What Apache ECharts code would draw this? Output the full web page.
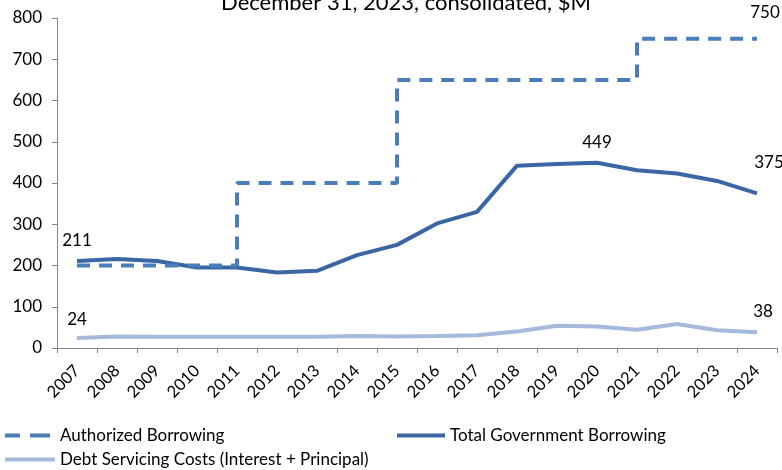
<!DOCTYPE html>
<html>
<head>
<meta charset="utf-8">
<script src="https://cdn.jsdelivr.net/npm/echarts@6/dist/echarts.min.js"></script>
<style>
  html, body { margin: 0; padding: 0; background: #fff; }
  #chart { width: 782px; height: 470px; }
</style>
</head>
<body>
<div id="chart"></div>
<script>
const years = ["2007", "2008", "2009", "2010", "2011", "2012", "2013", "2014", "2015",
  "2016", "2017", "2018", "2019", "2020", "2021", "2022", "2023", "2024"];
const authorized = [200, 200, 200, 200, 200, 400, 400, 400, 400,
  650, 650, 650, 650, 650, 650, 750, 750, 750];
const totalBorrowing = [211, 216, 211, 195, 195, 183, 187, 225, 250,
  302, 330, 442, 446, 449, 431, 423, 405, 375];
const debtServicing = [24, 28, 27, 27, 27, 27, 27, 29, 28,
  29, 31, 40, 54, 52, 44, 58, 43, 38];
// which points carry a value label
const totalLabelIdx = [0, 13, 17];
const debtLabelIdx = [0, 17];
const authLabelIdx = [17];

const fontFamily = "Lato, 'Open Sans', sans-serif";
const chart = echarts.init(document.getElementById("chart"));

const withLabels = (values, idx, lastOffset, distance) =>
  values.map((v, i) => idx.includes(i)
    ? {
        value: v,
        label: {
          show: true,
          position: "top",
          distance: distance,
          offset: i === values.length - 1 ? lastOffset : [0, 0]
        }
      }
    : v);

const legendText = { fontFamily, fontSize: 17, color: "#000" };

const option = {
  animation: false,
  title: {
    text: "December 31, 2023, consolidated, $M",
    left: 401,
    textAlign: "center",
    top: -13,
    textStyle: { fontFamily, fontSize: 22, fontWeight: "normal", color: "#000" }
  },
  legend: [
    {
      left: 0, top: 422, itemWidth: 45, itemHeight: 4,
      data: [{ name: "Authorized Borrowing", icon: "path://M0,0h15v4h-15z M25,0h20v4h-20z" }],
      textStyle: Object.assign({ padding: [0, 0, 0, 5] }, legendText)
    },
    {
      left: 392, top: 422, itemWidth: 48, itemHeight: 4,
      data: [{ name: "Total Government Borrowing", icon: "rect" }],
      textStyle: legendText
    },
    {
      left: 0, top: 446, itemWidth: 50, itemHeight: 4,
      data: [{ name: "Debt Servicing Costs (Interest + Principal)", icon: "rect" }],
      textStyle: legendText
    }
  ],
  grid: { left: 57, right: 5, top: 18, bottom: 122 },
  xAxis: {
    type: "category",
    data: years,
    boundaryGap: true,
    axisLine: { lineStyle: { color: "#868686", width: 1 } },
    axisTick: { show: true, length: 5, lineStyle: { color: "#868686" } },
    axisLabel: { rotate: 45, fontFamily, fontSize: 16.5, color: "#000", margin: 20, interval: 0 }
  },
  yAxis: {
    type: "value",
    min: 0,
    max: 800,
    interval: 100,
    splitLine: { show: false },
    axisLine: { show: true, lineStyle: { color: "#868686", width: 1 } },
    axisTick: { show: true, length: 5, lineStyle: { color: "#868686" } },
    axisLabel: { fontFamily, fontSize: 17, color: "#000", margin: 15 }
  },
  series: [
    {
      name: "Authorized Borrowing",
      type: "line",
      step: "start",
      symbol: "circle",
      symbolSize: 0,
      data: withLabels(authorized, authLabelIdx, [8, -6], 12),
      lineStyle: { color: "#4a7ebb", width: 4, type: [13, 9] },
      itemStyle: { color: "#4a7ebb" },
      label: { fontFamily, fontSize: 17, color: "#000" },
      z: 3
    },
    {
      name: "Total Government Borrowing",
      type: "line",
      symbol: "circle",
      symbolSize: 0,
      data: withLabels(totalBorrowing, totalLabelIdx, [12, -10], 12),
      lineStyle: { color: "#3a67a3", width: 4 },
      itemStyle: { color: "#3a67a3" },
      label: { fontFamily, fontSize: 17, color: "#000" },
      z: 2
    },
    {
      name: "Debt Servicing Costs (Interest + Principal)",
      type: "line",
      symbol: "circle",
      symbolSize: 0,
      data: withLabels(debtServicing, debtLabelIdx, [6, -2], 10),
      lineStyle: { color: "#a5b9dc", width: 4 },
      itemStyle: { color: "#a5b9dc" },
      label: { fontFamily, fontSize: 17, color: "#000" },
      z: 1
    }
  ]
};

option && chart.setOption(option);
</script>
</body>
</html>
